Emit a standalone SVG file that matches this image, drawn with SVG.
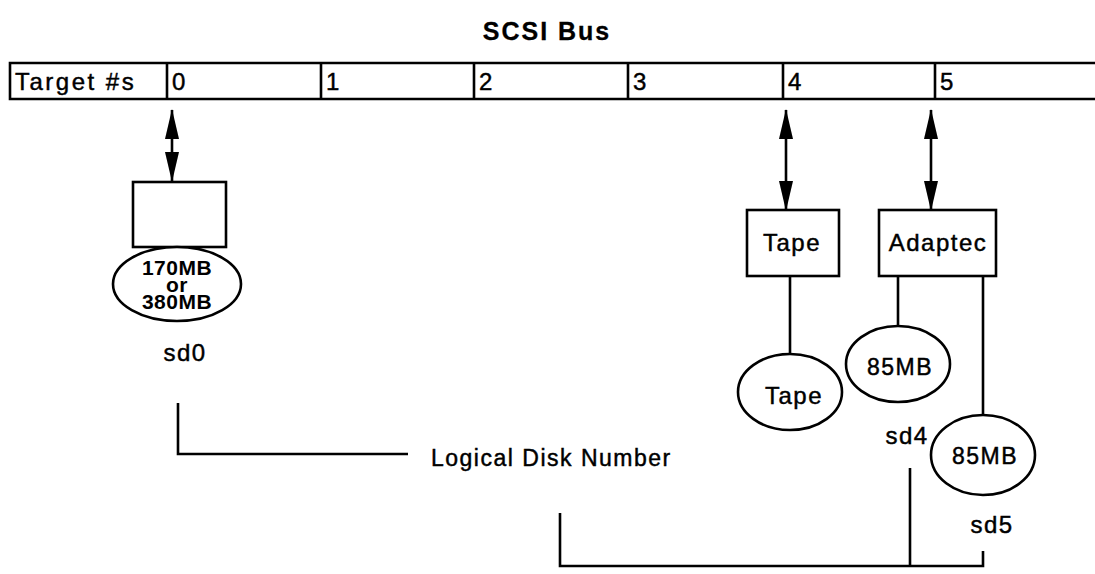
<svg xmlns="http://www.w3.org/2000/svg" width="1095" height="574" viewBox="0 0 1095 574">
<style>
.ln{stroke:#000;stroke-width:2.6;fill:none}
.shape{stroke:#000;stroke-width:2.6;fill:#fff}
.t{font-family:"Liberation Sans",Arial,sans-serif;font-size:23px;letter-spacing:1.5px;fill:#000;stroke:#000;stroke-width:0.45px}
.c{text-anchor:middle}
.b{font-weight:bold;stroke-width:0}
.d{font-size:24px}
</style>
<defs>
<marker id="ah" viewBox="0 0 30 14" refX="29" refY="7" markerWidth="30" markerHeight="14" markerUnits="userSpaceOnUse" orient="auto-start-reverse">
<path d="M0,0 L30,7 L0,14 z" fill="#000"/>
</marker>
</defs>
<rect width="1095" height="574" fill="#fff"/>
<text class="t c b" x="547" y="40" style="font-size:25px;letter-spacing:2px;stroke-width:0.3px">SCSI Bus</text>
<g id="bus">
<path class="ln" d="M1095,63 H10 V99 H1095"/>
<text class="t d" x="15" y="90" style="letter-spacing:2.5px">Target #s</text>
<path class="ln" d="M167,64 V98 M321,64 V98 M474,64 V98 M628,64 V98 M783,64 V98 M935,64 V98"/>
<text class="t d" x="172" y="90">0</text>
<text class="t d" x="326" y="90">1</text>
<text class="t d" x="479" y="90">2</text>
<text class="t d" x="633" y="90">3</text>
<text class="t d" x="788" y="90">4</text>
<text class="t d" x="940" y="90">5</text>
</g>
<g id="connectors">
<line class="ln" x1="172" y1="110" x2="172" y2="181" marker-start="url(#ah)" marker-end="url(#ah)"/>
<line class="ln" x1="786" y1="110" x2="786" y2="210" marker-start="url(#ah)" marker-end="url(#ah)"/>
<line class="ln" x1="931" y1="110" x2="931" y2="210" marker-start="url(#ah)" marker-end="url(#ah)"/>
<line class="ln" x1="790" y1="276" x2="790" y2="354"/>
<line class="ln" x1="898" y1="276" x2="898" y2="326"/>
<line class="ln" x1="983" y1="276" x2="983" y2="416"/>
<path class="ln" d="M178,403 V454 H408"/>
<path class="ln" d="M560,513 V566 H983 V551 M910,468 V566"/>
</g>
<g id="disk0">
<rect class="shape" x="133" y="182" width="93" height="65"/>
<ellipse class="shape" cx="177" cy="284" rx="64" ry="37"/>
<text class="t c b" x="177" y="275" style="font-size:21px;letter-spacing:0.5px">170MB</text>
<text class="t c b" x="177" y="292" style="font-size:21px;letter-spacing:0.5px">or</text>
<text class="t c b" x="177" y="309" style="font-size:21px;letter-spacing:0.5px">380MB</text>
<text class="t c d" x="185" y="361">sd0</text>
</g>
<g id="tape-ctrl">
<rect class="shape" x="747" y="210" width="92" height="66"/>
<text class="t c d" x="792" y="251">Tape</text>
</g>
<g id="tape">
<ellipse class="shape" cx="790" cy="392" rx="52" ry="38"/>
<text class="t c d" x="794" y="404">Tape</text>
</g>
<g id="adaptec">
<rect class="shape" x="879" y="210" width="117" height="66"/>
<text class="t c d" x="938" y="251">Adaptec</text>
</g>
<g id="disk4">
<ellipse class="shape" cx="898" cy="364" rx="52" ry="38"/>
<text class="t c" x="900" y="375">85MB</text>
<text class="t c d" x="907" y="444">sd4</text>
</g>
<g id="disk5">
<ellipse class="shape" cx="983" cy="455" rx="52" ry="40"/>
<text class="t c" x="985" y="464">85MB</text>
<text class="t c d" x="992" y="533">sd5</text>
</g>
<g id="label">
<text class="t" x="431" y="466">Logical Disk Number</text>
</g>
</svg>
